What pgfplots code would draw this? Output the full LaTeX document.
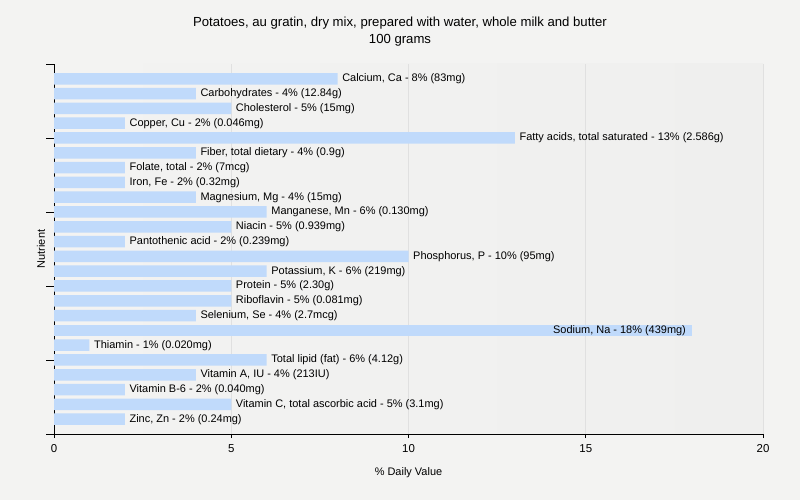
\documentclass[border=0pt]{standalone}
\usepackage{fontspec}
\setmainfont{Liberation Sans}
\usepackage{pgfplots}
\pgfplotsset{compat=1.18}
\definecolor{bg}{HTML}{F3F3F2}
\definecolor{barc}{HTML}{C0DAFB}
\definecolor{gridc}{HTML}{E0E0E0}
\definecolor{pl}{HTML}{F3F3F2}
\definecolor{pm}{HTML}{FCFCFC}
\definecolor{pr}{HTML}{EFEFEE}
\begin{document}
\begin{tikzpicture}
\fill[bg] (0,0) rectangle (800bp,500bp);
\path[use as bounding box] (0,0) rectangle (800bp,500bp);
\node[font=\fontsize{13.2}{15}\selectfont] at (400bp,477bp) {Potatoes, au gratin, dry mix, prepared with water, whole milk and butter};
\node[font=\fontsize{13.2}{15}\selectfont] at (400bp,460bp) {100 grams};
\begin{axis}[
  at={(54bp,66bp)}, anchor=south west,
  scale only axis, width=709bp, height=370bp,
  xmin=0, xmax=20, ymin=-1, ymax=24,
  axis lines*=left,
  axis line style={black, line width=0.8pt},
  axis background/.style={left color=pl, middle color=pm, right color=pr},
  xtick={0,5,10,15,20}, ytick={-1,4,9,14,19,24}, yticklabels={},
  tick align=outside,
  xtick style={black, line width=0.8pt, /pgfplots/major tick length=4bp},
  ytick style={black, line width=0.8pt, /pgfplots/major tick length=8bp},
  xmajorgrids, major x grid style={gridc, line width=0.8pt},
  /pgf/number format/assume math mode=true,
  xticklabel style={font=\fontsize{11.5}{13}\selectfont, anchor=center, yshift=-10bp},
  xlabel={\% Daily Value}, ylabel={Nutrient},
  every axis x label/.style={at={(axis description cs:0.5,0)}, anchor=center, yshift=-39bp, font=\fontsize{11}{13}\selectfont},
  every axis y label/.style={at={(axis description cs:-0.0183,0.5)}, anchor=center, rotate=90, font=\fontsize{11}{13}\selectfont},
  xbar, bar width=11.5bp, bar shift=0pt,
  point meta=explicit symbolic,
  nodes near coords, nodes near coords align={horizontal},
  every node near coord/.style={anchor=west, inner sep=0pt, xshift=4.5bp, black, font=\fontsize{11}{13}\selectfont},
  clip=false,
]
\addplot[fill=barc, draw=none] coordinates {
(8,23) [Calcium, Ca - 8\% (83mg)]
(4,22) [Carbohydrates - 4\% (12.84g)]
(5,21) [Cholesterol - 5\% (15mg)]
(2,20) [Copper, Cu - 2\% (0.046mg)]
(13,19) [Fatty acids, total saturated - 13\% (2.586g)]
(4,18) [Fiber, total dietary - 4\% (0.9g)]
(2,17) [Folate, total - 2\% (7mcg)]
(2,16) [Iron, Fe - 2\% (0.32mg)]
(4,15) [Magnesium, Mg - 4\% (15mg)]
(6,14) [Manganese, Mn - 6\% (0.130mg)]
(5,13) [Niacin - 5\% (0.939mg)]
(2,12) [Pantothenic acid - 2\% (0.239mg)]
(10,11) [Phosphorus, P - 10\% (95mg)]
(6,10) [Potassium, K - 6\% (219mg)]
(5,9) [Protein - 5\% (2.30g)]
(5,8) [Riboflavin - 5\% (0.081mg)]
(4,7) [Selenium, Se - 4\% (2.7mcg)]
(1,5) [Thiamin - 1\% (0.020mg)]
(6,4) [Total lipid (fat) - 6\% (4.12g)]
(4,3) [Vitamin A, IU - 4\% (213IU)]
(2,2) [Vitamin B-6 - 2\% (0.040mg)]
(5,1) [Vitamin C, total ascorbic acid - 5\% (3.1mg)]
(2,0) [Zinc, Zn - 2\% (0.24mg)]
};
\addplot[fill=barc, draw=none, every node near coord/.style={anchor=east, inner sep=0pt, xshift=-6bp, black, font=\fontsize{11}{13}\selectfont}] coordinates {
(18,6) [Sodium, Na - 18\% (439mg)]
};
\end{axis}
\end{tikzpicture}
\end{document}
